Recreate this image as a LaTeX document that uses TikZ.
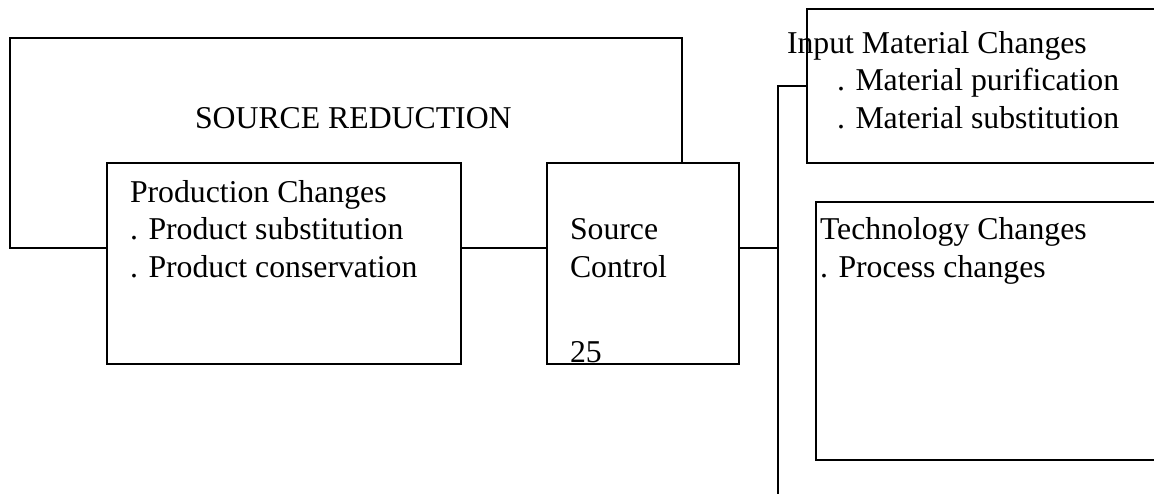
\documentclass[tikz,border=0pt]{standalone}
\usepackage{fontspec}
\setmainfont{Liberation Serif}
\begin{document}
\begin{tikzpicture}[x=1pt,y=-1pt,
  box/.style={draw,line width=2.9pt,rectangle,inner sep=0pt,outer sep=0pt},
  wire/.style={line width=2.9pt},
  txt/.style={anchor=base west,inner sep=0pt,outer sep=0pt,align=left,
    font=\fontsize{31.75}{37.5}\selectfont}]
  \useasboundingbox (0,0) rectangle (1154,493);
  \clip (0,0) rectangle (1154,493);

  % boxes
  \node[box,minimum width=354pt,minimum height=201pt] (prod) at (284,263.5) {};
  \node[box,minimum width=192pt,minimum height=201pt] (sc) at (643,263.5) {};
  \node[box,minimum width=393pt,minimum height=154pt] (inmat) at (1003.5,86) {};
  \node[box,minimum width=384pt,minimum height=258pt] (tech) at (1008,331) {};

  % helper points
  \coordinate (j) at (778,248);
  \coordinate (bt) at (778,500);
  \coordinate (ftl) at (10,38);
  \coordinate (ftr) at (682,38);

  % connectors
  \draw[wire] (prod.west |- j) -| (ftl) -- (ftr) -- (ftr |- sc.north);
  \draw[wire] (prod.east |- j) -- (sc.west |- j);
  \draw[wire] (sc.east |- j) -- (j);
  \draw[wire] (inmat.west) -| (bt);

  % labels (multi-line nodes sit on the baseline of their last line)
  \node[txt] (srlab) at (195,128) {SOURCE REDUCTION};
  \node[txt] (prodlab) at (130,277) {Production Changes\\. Product substitution\\. Product conservation};
  \node[txt] (sclab) at (570,277) {Source\\Control};
  \node[txt] (pagenum) at (570,362) {25};
  \node[txt] (inlab) at (787,53) {Input Material Changes};
  \node[txt] (inlist) at (837,128) {. Material purification\\. Material substitution};
  \node[txt] (techlab) at (820,277) {Technology Changes\\. Process changes};
\end{tikzpicture}
\end{document}
